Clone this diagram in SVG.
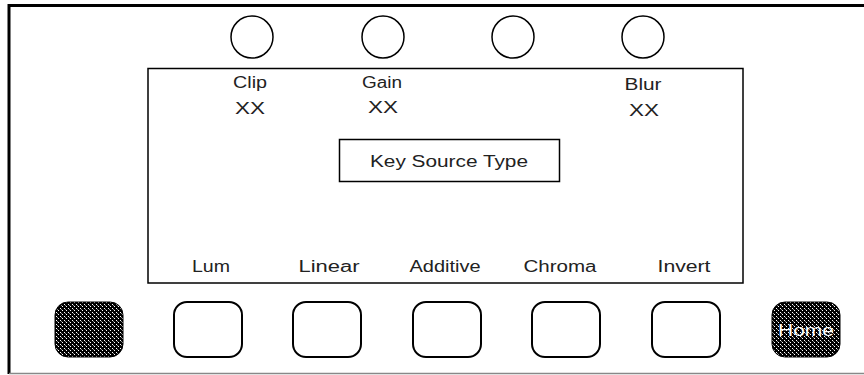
<svg xmlns="http://www.w3.org/2000/svg" width="864" height="375" viewBox="0 0 864 375">
<defs>
<pattern id="dots" width="4" height="4" patternUnits="userSpaceOnUse">
<rect width="4" height="4" fill="#000"/>
<rect x="0" y="0" width="1" height="1" fill="#fff"/>
<rect x="2" y="2" width="1" height="1" fill="#fff"/>
<rect x="1" y="1" width="1" height="1" fill="#888"/>
</pattern>
</defs>
<style>
.knob{fill:#fff;stroke:#000;stroke-width:1.5}
.btn{fill:#fff;stroke:#000;stroke-width:2}
.dark{fill:url(#dots);stroke:#000;stroke-width:1}
.lbl{font-family:"Liberation Sans",Arial,sans-serif;font-size:16px;fill:#222;text-anchor:middle}
</style>
<rect width="864" height="375" fill="#fff"/>
<g id="frame">
<path d="M 870 5.5 H 9 V 374" fill="none" stroke="#000" stroke-width="3"/>
<path d="M 9 373.5 H 870" fill="none" stroke="#888" stroke-width="1.5"/>
</g>
<g id="knobs">
<circle id="knob1" class="knob" cx="252" cy="37" r="21"/>
<circle id="knob2" class="knob" cx="383" cy="37" r="21"/>
<circle id="knob3" class="knob" cx="513" cy="37" r="21"/>
<circle id="knob4" class="knob" cx="643" cy="37" r="21"/>
</g>
<g id="panel">
<rect x="148" y="68.5" width="595" height="214.5" fill="none" stroke="#000" stroke-width="1.5"/>
</g>
<g id="clip">
<text class="lbl" x="250" y="88" textLength="34" lengthAdjust="spacingAndGlyphs">Clip</text>
<text class="lbl" x="250" y="114" textLength="30" lengthAdjust="spacingAndGlyphs">XX</text>
</g>
<g id="gain">
<text class="lbl" x="382" y="88" textLength="40" lengthAdjust="spacingAndGlyphs">Gain</text>
<text class="lbl" x="383" y="113" textLength="30" lengthAdjust="spacingAndGlyphs">XX</text>
</g>
<g id="blur">
<text class="lbl" x="643" y="90" textLength="37" lengthAdjust="spacingAndGlyphs">Blur</text>
<text class="lbl" x="644" y="116" textLength="30" lengthAdjust="spacingAndGlyphs">XX</text>
</g>
<g id="keysource">
<rect x="339.5" y="139.5" width="220" height="42" fill="#fff" stroke="#000" stroke-width="1.5"/>
<text class="lbl" x="449" y="167" textLength="158" lengthAdjust="spacingAndGlyphs">Key Source Type</text>
</g>
<g id="softlabels">
<text class="lbl" x="211" y="272" textLength="38" lengthAdjust="spacingAndGlyphs">Lum</text>
<text class="lbl" x="329" y="272" textLength="61" lengthAdjust="spacingAndGlyphs">Linear</text>
<text class="lbl" x="445" y="272" textLength="71" lengthAdjust="spacingAndGlyphs">Additive</text>
<text class="lbl" x="560" y="272" textLength="73" lengthAdjust="spacingAndGlyphs">Chroma</text>
<text class="lbl" x="684" y="272" textLength="53" lengthAdjust="spacingAndGlyphs">Invert</text>
</g>
<g id="buttons">
<rect id="btn0" class="dark" x="55" y="302" width="68" height="55" rx="13"/>
<rect id="btn1" class="btn" x="174" y="302" width="68" height="55" rx="13"/>
<rect id="btn2" class="btn" x="293" y="302" width="68" height="55" rx="13"/>
<rect id="btn3" class="btn" x="413" y="302" width="68" height="55" rx="13"/>
<rect id="btn4" class="btn" x="532" y="302" width="68" height="55" rx="13"/>
<rect id="btn5" class="btn" x="652" y="302" width="68" height="55" rx="13"/>
<g id="home">
<rect class="dark" x="772" y="302" width="68" height="55" rx="13"/>
<text x="806" y="336" font-family="'Liberation Sans',Arial,sans-serif" font-size="16" fill="#fff" text-anchor="middle" textLength="56" lengthAdjust="spacingAndGlyphs">Home</text>
</g>
</g>
</svg>
